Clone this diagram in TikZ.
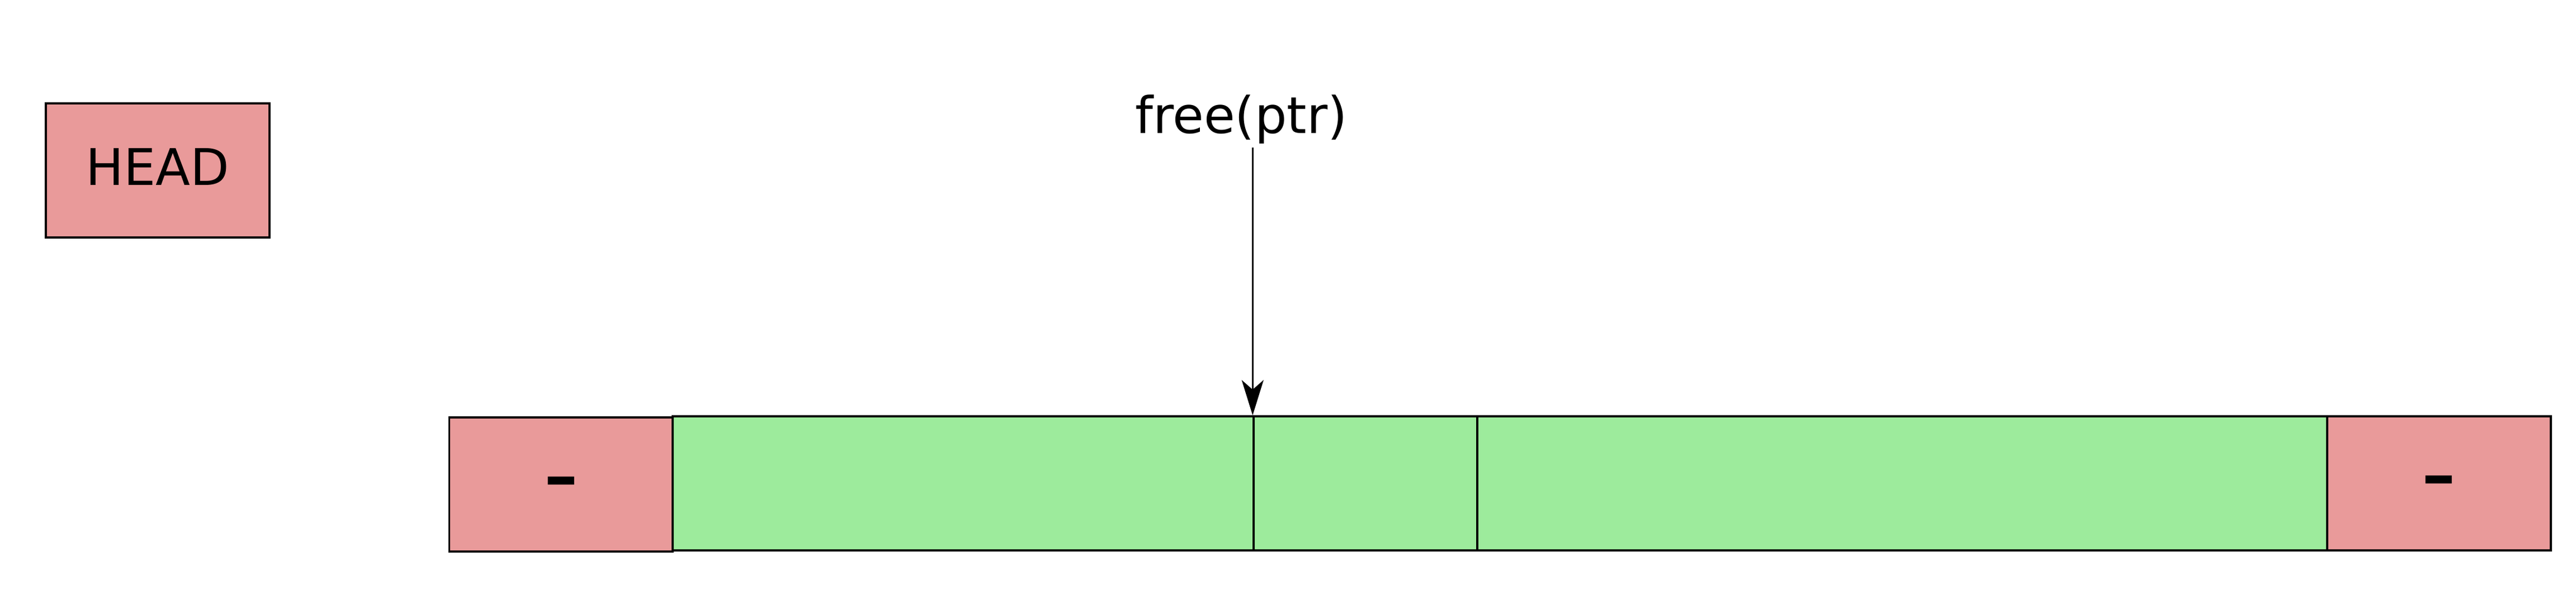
\documentclass[tikz,border=0pt]{standalone}
\usepackage{fontspec}
\setmainfont{DejaVu Sans}
\usetikzlibrary{arrows.meta}

\definecolor{usedred}{HTML}{E99A9A}
\definecolor{freegreen}{HTML}{9DEB9C}

\tikzset{
	sentinel/.style={draw, fill=usedred, line width=1pt, minimum width=4cm, minimum height=2.4cm, inner sep=0pt},
	chunk/.style={draw, fill=freegreen, line width=1pt, minimum height=2.4cm, inner sep=0pt},
	label/.style={font=\fontsize{25.75pt}{30pt}\selectfont},
	bigdash/.style={font=\fontsize{50.9pt}{60pt}\selectfont, text height=24.4pt, text depth=0pt},
}

\begin{document}
\begin{tikzpicture}
	\useasboundingbox (0, 0) rectangle (46.07, 10.63);

	\node[sentinel, label, text depth=3.9pt] (head) at (2.82, 7.58) {HEAD};

	\node[sentinel, bigdash] (left) at (10.035, 1.96) {-};
	\node[chunk, minimum width=10.39cm] (c1) at (17.225, 1.98) {};
	\node[chunk, minimum width=4cm] (c2) at (24.42, 1.98) {};
	\node[chunk, minimum width=15.2cm] (c3) at (34.02, 1.98) {};
	\node[sentinel, bigdash] (right) at (43.62, 1.98) {-};

	\node[label, anchor=base, inner sep=0.05cm] (free) at (22.20, 8.24) {free(ptr)};
	\draw[line width=1pt, -{Stealth[length=0.63cm, width=0.39cm, inset=0.17cm]}] (free.south -| c2.north west) -- (c2.north west);

\end{tikzpicture}
\end{document}
